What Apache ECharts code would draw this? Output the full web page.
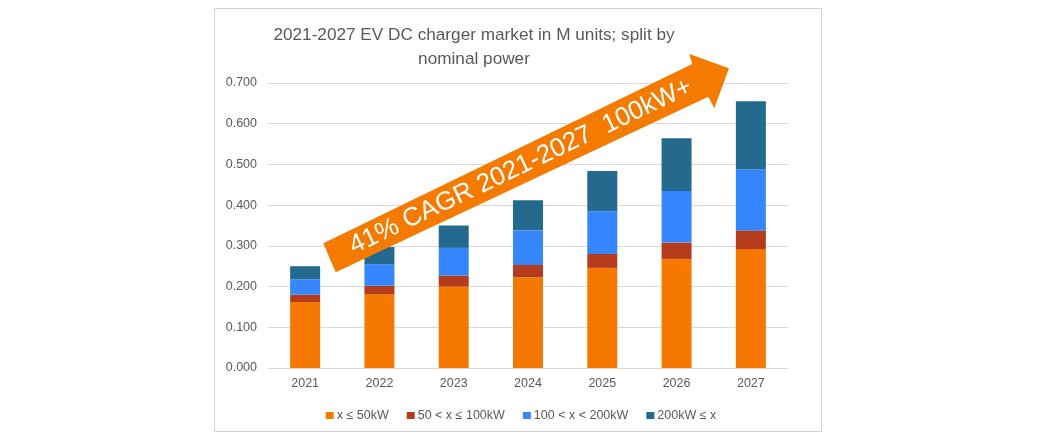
<!DOCTYPE html>
<html>
<head>
<meta charset="utf-8">
<script src="https://cdn.jsdelivr.net/npm/echarts@6/dist/echarts.min.js"></script>
<style>
html,body{margin:0;padding:0;background:#fff;}
#chart{width:1042px;height:446px;}
</style>
</head>
<body>
<div id="chart"></div>
<script>
const years = ['2021', '2022', '2023', '2024', '2025', '2026', '2027'];
const seriesNames = ['x \u2264 50kW', '50 < x \u2264 100kW', '100 < x < 200kW', '200kW \u2264 x'];
const upTo50 = [0.162, 0.181, 0.200, 0.223, 0.246, 0.268, 0.292];
const from50to100 = [0.018, 0.021, 0.027, 0.030, 0.034, 0.040, 0.046];
const from100to200 = [0.038, 0.053, 0.068, 0.085, 0.105, 0.127, 0.150];
const above200 = [0.032, 0.042, 0.055, 0.074, 0.099, 0.129, 0.167];
const titleText = '2021-2027 EV DC charger market in M units; split by\nnominal power';
const arrowText = '41% CAGR 2021-2027  100kW+';

const colors = ['#F57900', '#B43C1C', '#3686FE', '#236A8E'];
const textColor = '#595959';
const FONT = '"Liberation Sans", Arial, sans-serif';

const chart = echarts.init(document.getElementById('chart'), null, {renderer: 'canvas'});

const seriesData = [upTo50, from50to100, from100to200, above200];

const arrowPts = [
  [323.3, 243.3], [692.3, 64.0], [689.3, 54.0], [729.0, 68.3],
  [714.3, 108.3], [708.3, 96.7], [335.7, 272.3]
];

chart.setOption({
  backgroundColor: '#ffffff',
  animation: false,
  title: {
    text: titleText,
    left: 469,
    top: 18,
    textAlign: 'center',
    textStyle: {
      color: textColor,
      fontFamily: FONT,
      fontSize: 17.2,
      fontWeight: 'normal',
      lineHeight: 24
    }
  },
  legend: {
    data: seriesNames,
    left: 'center',
    top: 404,
    icon: 'rect',
    itemWidth: 8,
    itemHeight: 7,
    itemGap: 18,
    textStyle: {color: textColor, fontFamily: FONT, fontSize: 12.5, padding: [0, 0, 0, -2]}
  },
  grid: {left: 268, right: 254, top: 83, bottom: 78, containLabel: false},
  xAxis: {
    type: 'category',
    data: years,
    axisLine: {lineStyle: {color: '#d9d9d9', width: 1}},
    axisTick: {show: false},
    axisLabel: {color: textColor, fontFamily: FONT, fontSize: 12.5, margin: 9}
  },
  yAxis: {
    type: 'value',
    min: 0,
    max: 0.7,
    interval: 0.1,
    axisLine: {show: false},
    axisTick: {show: false},
    splitLine: {lineStyle: {color: '#d9d9d9', width: 1}},
    axisLabel: {
      color: textColor, fontFamily: FONT, fontSize: 12.5, margin: 11,
      formatter: v => v.toFixed(3)
    }
  },
  series: seriesNames.map((name, i) => ({
    name: name,
    type: 'bar',
    stack: 'total',
    barWidth: 30,
    data: seriesData[i],
    itemStyle: {color: colors[i]}
  })),
  graphic: [
    {
      type: 'rect',
      silent: true,
      z: -10,
      shape: {x: 214.5, y: 8.5, width: 607, height: 423},
      style: {fill: 'none', stroke: '#d4d4d4', lineWidth: 1}
    },
    {
      type: 'polygon',
      silent: true,
      z: 100,
      shape: {points: arrowPts},
      style: {fill: '#F47A00'}
    },
    {
      type: 'text',
      silent: true,
      z: 101,
      x: 520.7,
      y: 166.6,
      rotation: 25.5 * Math.PI / 180,
      style: {
        text: arrowText,
        fill: '#ffffff',
        fontSize: 26,
        fontFamily: FONT,
        align: 'center',
        verticalAlign: 'middle',
        textAlign: 'center',
        textVerticalAlign: 'middle'
      }
    }
  ]
});
</script>
</body>
</html>
